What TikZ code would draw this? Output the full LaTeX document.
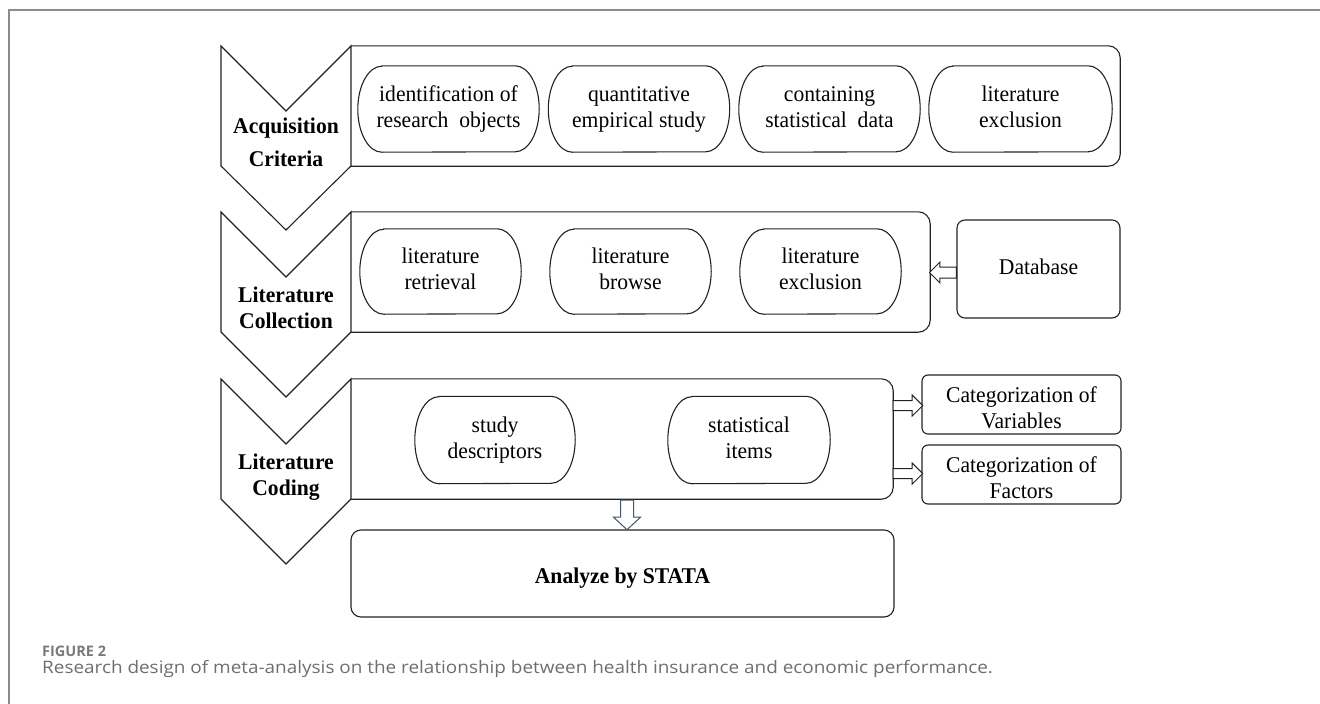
\documentclass[tikz,border=0pt]{standalone}
\usepackage{fontspec}
\setmainfont{Liberation Serif}[FakeStretch=0.96]
\newfontfamily\capfont{Open Sans}[FakeStretch=1.1]
\newfontfamily\figfont{Open Sans}
\definecolor{lncol}{HTML}{222222}
\definecolor{framecol}{HTML}{8C8C8C}
\definecolor{capcol}{HTML}{6E6E6E}
\definecolor{figcol}{HTML}{7A7A7A}
\definecolor{downcol}{HTML}{44546A}
\tikzset{
  ln/.style={line width=1.1pt, draw=lncol},
  chev/.style={ln, fill=white, line join=miter},
  txt/.style={font=\fontsize{22.5}{26}\selectfont, align=center, inner sep=0pt},
  stage/.style={txt, font=\bfseries\fontsize{22.5}{26}\selectfont},
  pill/.style={txt, minimum height=86pt},
  stagebox/.style={inner sep=0pt, minimum height=120pt},
  rbox/.style={ln, txt, rounded corners=8pt},
  harrow/.style={ln, line width=1pt, fill=white, line join=miter},
}
\begin{document}
\begin{tikzpicture}[x=1pt,y=1pt]
\useasboundingbox (0,0) rectangle (1320,-704);
% frame
\draw[framecol, line width=2pt] (9,-704) -- (9,-10) -- (1320,-10);

% stage boxes
\node[stagebox, minimum width=769pt] (b1) at (735.5,-106) {};
\node[stagebox, minimum width=579pt] (b2) at (640.5,-272) {};
\node[stagebox, minimum width=542pt] (b3) at (622,-439) {};
\foreach \n in {b1,b2,b3}{
  \draw[ln, rounded corners=12pt] (\n.north west) -- (\n.north east) -- (\n.south east) -- (\n.south west);
}

% chevrons
\draw[chev] (221,-46) -- (286,-111) -- (351,-46) -- (351,-166) -- (286,-230) -- (221,-166) -- cycle;
\draw[chev] (221,-212) -- (286,-277) -- (351,-212) -- (351,-332) -- (286,-397) -- (221,-332) -- cycle;
\draw[chev] (221,-379) -- (286,-444) -- (351,-379) -- (351,-499) -- (286,-564) -- (221,-499) -- cycle;
\node[stage] (s1) at (286,-144.3) {\strut Acquisition\\[7pt]\strut Criteria};
\node[stage] (s2) at (286,-309.8) {\strut Literature\\\strut Collection};
\node[stage] (s3) at (286,-477) {\strut Literature\\\strut Coding};

% pills
\node[pill, minimum width=181pt] (a1) at (448.5,-109) {\strut identification of\\\strut research\ \ objects};
\node[pill, minimum width=181pt] (a2) at (639,-109) {\strut quantitative\\\strut empirical study};
\node[pill, minimum width=181pt] (a3) at (829.5,-109) {\strut containing\\\strut statistical\ \ data};
\node[pill, minimum width=183pt] (a4) at (1020.5,-109) {\strut literature\\\strut exclusion};
\node[pill, minimum width=161pt, minimum height=85pt] (c1) at (440.5,-271.5) {\strut literature\\\strut retrieval};
\node[pill, minimum width=161pt, minimum height=85pt] (c2) at (630.5,-271.5) {\strut literature\\\strut browse};
\node[pill, minimum width=161pt, minimum height=85pt] (c3) at (820.5,-271.5) {\strut literature\\\strut exclusion};
\node[pill, minimum width=160pt, minimum height=87pt] (d1) at (495,-440) {\strut study\\\strut descriptors};
\node[pill, minimum width=162pt, minimum height=87pt] (d2) at (749,-440) {\strut statistical\\\strut items};
\foreach \n/\ry in {a1/43,a2/43,a3/43,a4/43,c1/42.5,c2/42.5,c3/42.5,d1/43.5,d2/43.5}{
  \draw[ln] ([xshift=24pt]\n.north west) -- ([xshift=-24pt]\n.north east)
    arc[start angle=90, end angle=-90, x radius=24pt, y radius=\ry pt]
    -- ([xshift=24pt]\n.south west)
    arc[start angle=270, end angle=90, x radius=24pt, y radius=\ry pt] -- cycle;
}

% side boxes
\node[rbox, minimum width=163pt, minimum height=98pt] (db) at (1038.5,-269) {\strut Database};
\node[ln, rounded corners=6pt, inner sep=0pt, minimum width=199pt, minimum height=59pt] (catv) at (1021.5,-404.5) {};
\node[txt] (catvt) at ([yshift=-5.5pt]catv.center) {\strut Categorization of\\\strut Variables};
\node[ln, rounded corners=6pt, inner sep=0pt, minimum width=199pt, minimum height=59pt] (catf) at (1021.5,-474.5) {};
\node[txt] (catft) at ([yshift=-5.5pt]catf.center) {\strut Categorization of\\\strut Factors};

% analyze box
\node[ln, rounded corners=10pt, inner sep=0pt, minimum width=543pt, minimum height=87pt] (an) at (622.5,-573.5) {};
\node[stage] (ant) at ([yshift=-5pt]an.center) {\strut Analyze by STATA};

% hollow arrows
\draw[harrow] ([yshift=2pt]db.west) -- ++(-16.5,0) -- ++(0,5) -- ++(-10.5,-10.5) -- ++(10.5,-10.5) -- ++(0,5) -- ++(16.5,0) -- cycle;
\draw[harrow] ([yshift=4pt]b3.east |- catv.west) -- ++(19,0) -- ++(0,5.5) -- ++(10.5,-10.5) -- ++(-10.5,-10.5) -- ++(0,5.5) -- ++(-19,0) -- cycle;
\draw[harrow] ([yshift=6pt]b3.east |- catf.west) -- ++(19,0) -- ++(0,5.5) -- ++(10.5,-10.5) -- ++(-10.5,-10.5) -- ++(0,5.5) -- ++(-19,0) -- cycle;
\draw[harrow, draw=downcol] ([xshift=-1.5pt,yshift=-1pt]b3.south) -- ++(0,-17) -- ++(-7,0) -- ++(13.5,-12.5) -- ++(13.5,12.5) -- ++(-7,0) -- ++(0,17) -- cycle;

% caption
\node[anchor=base west, inner sep=0pt, text=figcol, font=\figfont\bfseries\fontsize{14.5}{17}\selectfont] (figlab) at (42,-656.7) {FIGURE 2};
\node[anchor=base west, inner sep=0pt, text=capcol, font=\capfont\fontsize{17.2}{20}\selectfont] (caption) at (42,-673.3) {Research design of meta-analysis on the relationship between health insurance and economic performance.};
\end{tikzpicture}
\end{document}
